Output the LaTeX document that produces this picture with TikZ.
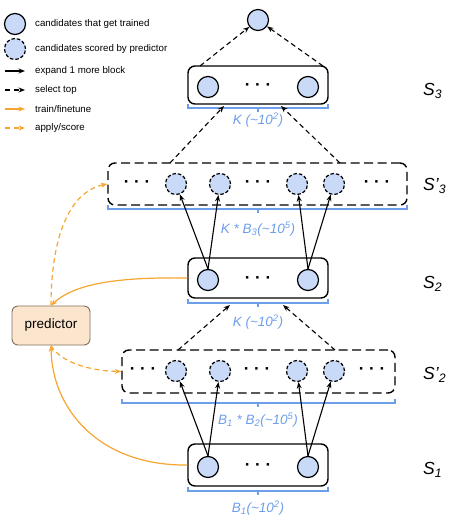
\documentclass[tikz,border=0pt]{standalone}
\usepackage{fontspec}
\setmainfont{Liberation Sans}
\usetikzlibrary{arrows.meta}

\definecolor{candblue}{HTML}{C9DAF8}
\definecolor{braceblue}{HTML}{6D9EEB}
\definecolor{trainorange}{HTML}{F6A530}
\definecolor{predfill}{HTML}{FCE5CD}
\definecolor{predline}{HTML}{7F7060}

\tikzset{
  cand/.style={circle, draw, fill=candblue, minimum size=21pt, inner sep=0pt, line width=1.2pt},
  scored/.style={cand, dash pattern=on 3.5pt off 2pt},
  stagebox/.style={draw, rounded corners=7pt, line width=1.4pt, inner sep=0pt},
  probebox/.style={stagebox, dash pattern=on 9pt off 4.5pt},
  predbox/.style={draw=predline, fill=predfill, rounded corners=6pt, line width=0.9pt, font=\fontsize{13.5}{14}\selectfont},
  expand/.style={-{Stealth[length=6.5pt,width=5pt]}, line width=1.1pt},
  select/.style={expand, dash pattern=on 5pt off 3.5pt},
  train/.style={-{Stealth[length=6.5pt,width=5pt]}, draw=trainorange, line width=1.2pt},
  apply/.style={train, dash pattern=on 5pt off 3.5pt},
  sizebrace/.style={draw=braceblue, line width=1.1pt},
  sizelabel/.style={text=braceblue, inner sep=0pt, font=\fontsize{13.5}{14}\selectfont\itshape},
  stagelabel/.style={anchor=west, inner sep=0pt, font=\fontsize{17.5}{18}\selectfont\itshape},
  legend/.style={anchor=west, inner sep=0pt, font=\fontsize{9.7}{11}\selectfont},
  dots/.style={inner sep=0pt, font=\fontsize{17}{17}\selectfont\bfseries}
}

\begin{document}
\begin{tikzpicture}[x=1pt, y=-1pt]
    \useasboundingbox (0,0) rectangle (450,522);

    % Legend
    \node[cand] (lgtrained) at (15,24) {};
    \node[legend] at (35,24) {candidates that get trained};
    \node[scored] (lgscored) at (15,49) {};
    \node[legend] at (35,49) {candidates scored by predictor};
    \draw[expand] (5,71) coordinate (lgexpa) -- (25,71) coordinate (lgexpb);
    \node[legend] at (35,71) {expand 1 more block};
    \draw[select] (5,90) coordinate (lgsela) -- (25,90) coordinate (lgselb);
    \node[legend] at (35,90) {select top};
    \draw[train] (5,109) coordinate (lgtrna) -- (25,109) coordinate (lgtrnb);
    \node[legend] at (35,109) {train/finetune};
    \draw[apply] (5,128) coordinate (lgappa) -- (25,128) coordinate (lgappb);
    \node[legend] at (35,128) {apply/score};

    % Meilleur candidat
    \node[cand] (best) at (258,20) {};

    % Etape S3
    \node[stagebox, minimum width=140pt, minimum height=38pt] (sthree) at (258,85) {};
    \node[cand] (sthreea) at (208,87) {};
    \node[dots] at (258,87) {·~·~·};
    \node[cand] (sthreeb) at (308,87) {};
    \draw[sizebrace] (188,104) -- (188,108) -- (328,108) -- (328,104) (258,108) -- (258,112);
    \node[sizelabel] (ksthree) at (258,120) {K (\textasciitilde10\textsuperscript{2})};
    \node[stagelabel] (lsthree) at (423,91) {S\textsubscript{3}};

    % Etape S'3
    \node[probebox, minimum width=299pt, minimum height=42pt] (pthree) at (257.5,184) {};
    \node[dots] at (137,184) {·~·~·};
    \node[scored] (pthreea) at (176,184) {};
    \node[scored] (pthreeb) at (220,184) {};
    \node[dots] at (258,184) {·~·~·};
    \node[scored] (pthreec) at (297,184) {};
    \node[scored] (pthreed) at (334,184) {};
    \node[dots] at (377,184) {·~·~·};
    \draw[sizebrace] (108,205) -- (108,209) -- (407,209) -- (407,205) (258,209) -- (258,213);
    \node[sizelabel] (kpthree) at (258,229) {K * B\textsubscript{3}(\textasciitilde10\textsuperscript{5})};
    \node[stagelabel] (lpthree) at (423,186) {S’\textsubscript{3}};

    % Etape S2
    \node[stagebox, minimum width=140pt, minimum height=40pt] (stwo) at (258,278) {};
    \node[cand] (stwoa) at (208,280) {};
    \node[dots] at (258,280) {·~·~·};
    \node[cand] (stwob) at (308,280) {};
    \draw[sizebrace] (188,299) -- (188,303) -- (328,303) -- (328,299) (258,303) -- (258,307);
    \node[sizelabel] (kstwo) at (258,322) {K (\textasciitilde10\textsuperscript{2})};
    \node[stagelabel] (lstwo) at (423,284) {S\textsubscript{2}};

    % Etape S'2
    \node[probebox, minimum width=273pt, minimum height=43pt] (ptwo) at (258.5,371.5) {};
    \node[dots] at (143,371) {·~·~·};
    \node[scored] (ptwoa) at (176,371) {};
    \node[scored] (ptwob) at (220,371) {};
    \node[dots] at (257,371) {·~·~·};
    \node[scored] (ptwoc) at (297,371) {};
    \node[scored] (ptwod) at (334,371) {};
    \node[dots] at (372,371) {·~·~·};
    \draw[sizebrace] (122,399) -- (122,403) -- (395,403) -- (395,399) (258,403) -- (258,407);
    \node[sizelabel] (kptwo) at (258,420) {B\textsubscript{1} * B\textsubscript{2}(\textasciitilde10\textsuperscript{5})};
    \node[stagelabel] (lptwo) at (423,375) {S’\textsubscript{2}};

    % Etape S1
    \node[stagebox, minimum width=140pt, minimum height=42pt] (sone) at (258,465) {};
    \node[cand] (sonea) at (208,467) {};
    \node[dots] at (258,467) {·~·~·};
    \node[cand] (soneb) at (308,467) {};
    \draw[sizebrace] (188,487) -- (188,491) -- (328,491) -- (328,487) (258,491) -- (258,495);
    \node[sizelabel] (ksone) at (258,508) {B\textsubscript{1}(\textasciitilde10\textsuperscript{2})};
    \node[stagelabel] (lsone) at (423,470) {S\textsubscript{1}};

    % Predicteur
    \node[predbox, minimum width=78pt, minimum height=39pt] (pred) at (51,325.5) {predictor};

    % Expansion
    \draw[expand] (sonea.north) -- (ptwoa);
    \draw[expand] (sonea.north) -- (ptwob);
    \draw[expand] (soneb.north) -- (ptwoc);
    \draw[expand] (soneb.north) -- (ptwod);
    \draw[expand] (stwoa.north) -- (pthreea);
    \draw[expand] (stwoa.north) -- (pthreeb);
    \draw[expand] (stwob.north) -- (pthreec);
    \draw[expand] (stwob.north) -- (pthreed);

    % Selection
    \coordinate (ptwol) at (178,350);
    \coordinate (ptwor) at (335,350);
    \coordinate (stwol) at (230,305);
    \coordinate (stwor) at (283,305);
    \draw[select] (ptwol) -- (stwol);
    \draw[select] (ptwor) -- (stwor);
    \coordinate (pthreel) at (170,163);
    \coordinate (pthreer) at (340,163);
    \coordinate (sthreel) at (224,106);
    \coordinate (sthreer) at (281,106);
    \draw[select] (pthreel) -- (sthreel);
    \draw[select] (pthreer) -- (sthreer);
    \coordinate (sthreetl) at (200,66);
    \coordinate (sthreetr) at (323,66);
    \draw[select] (sthreetl) -- (best);
    \draw[select] (sthreetr) -- (best);

    % Predicteur: entrainement et score
    \draw[train] (sone.west) .. controls (100,466) and (52,410) .. (pred.south);
    \draw[apply] (pred.south) .. controls (60,362) and (90,371) .. (ptwo.west);
    \draw[train] (stwo.west) .. controls (120,277) and (75,283) .. (pred.north);
    \draw[apply] (pred.north) .. controls (51,240) and (68,192) .. (pthree.west);

\end{tikzpicture}
\end{document}
